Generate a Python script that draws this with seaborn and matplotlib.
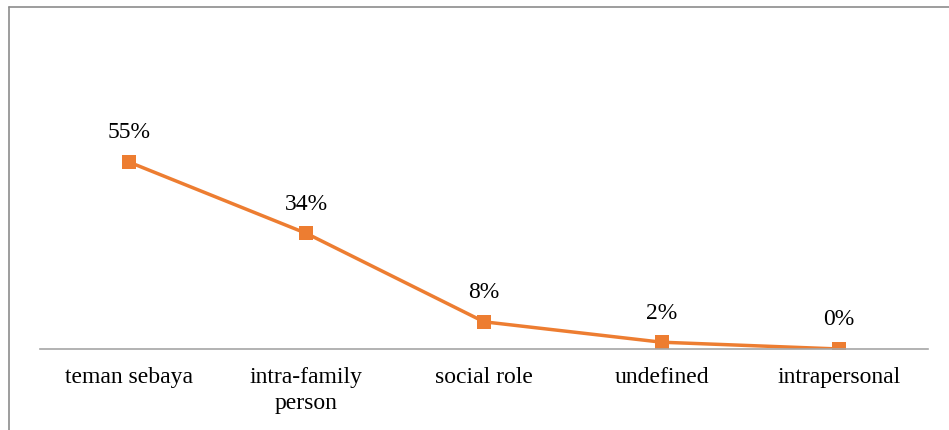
import matplotlib
matplotlib.use("Agg")
import matplotlib.pyplot as plt
import seaborn as sns
import pandas as pd
from matplotlib.lines import Line2D

categories = ["teman sebaya", "intra-family\nperson", "social role", "undefined", "intrapersonal"]
shares = [0.55, 0.34, 0.08, 0.02, 0.00]
share_labels = ["55%", "34%", "8%", "2%", "0%"]

df = pd.DataFrame({"category": categories, "share": shares})

sns.set_style("white")
plt.rcParams["font.family"] = ["Liberation Serif", "DejaVu Serif"]

W, H = 949, 430
fig = plt.figure(figsize=(W / 100, H / 100), dpi=100)
# axes placed so that the baseline sits at y=349px and spans x=40..928px
ax = fig.add_axes([40 / W, (H - 349) / H, 888 / W, 204 / H])

sns.lineplot(data=df, x="category", y="share", ax=ax, color="#ED7D31",
             linewidth=2.5, marker="s", markersize=10.5, markeredgewidth=0,
             sort=False)

for i, (v, lab) in enumerate(zip(shares, share_labels)):
    ax.annotate(lab, (i, v), xytext=(0, 21), textcoords="offset points",
                ha="center", va="center", fontsize=17, color="#000000",
                annotation_clip=False)

ax.set_xlim(-0.5, len(categories) - 0.5)
ax.set_ylim(0, 0.60)
ax.set_xlabel("")
ax.set_ylabel("")
ax.set_yticks([])
ax.tick_params(axis="x", length=0, pad=13, labelsize=17, labelcolor="#000000")
for side in ["top", "right", "left"]:
    ax.spines[side].set_visible(False)
ax.spines["bottom"].set_color("#A6A6A6")
ax.spines["bottom"].set_linewidth(1.2)
ax.patch.set_alpha(0)
for lbl in ax.get_xticklabels():
    lbl.set_linespacing(1.3)

# chart frame (top and left edges visible)
fig.add_artist(Line2D([9 / W, 1.0], [(H - 7) / H, (H - 7) / H],
                      color="#8C8C8C", linewidth=1.2, transform=fig.transFigure))
fig.add_artist(Line2D([9 / W, 9 / W], [0, (H - 7) / H],
                      color="#8C8C8C", linewidth=1.2, transform=fig.transFigure))

fig.savefig("out.png", dpi=100)
